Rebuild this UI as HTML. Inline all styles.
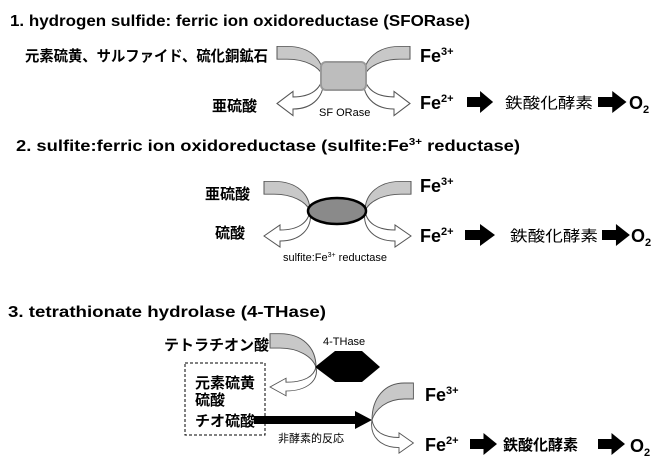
<!DOCTYPE html>
<html><head><meta charset="utf-8"><style>
html,body{margin:0;padding:0;background:#fff;}
svg{display:block;font-family:"Liberation Sans","Noto Sans CJK JP",sans-serif;}
.t{font-weight:bold;font-size:16px;}
.j{font-weight:bold;font-size:15px;font-family:"Liberation Sans","Noto Sans CJK JP",sans-serif;}
.jn{font-size:15px;font-family:"Liberation Sans","Noto Sans CJK JP",sans-serif;}
.fe{font-weight:bold;font-size:18px;}
.sm{font-size:11px;}
</style></head><body>
<svg width="663" height="465" viewBox="0 0 663 465" xmlns="http://www.w3.org/2000/svg">
<defs>
<path id="gin" d="M-46,-37 L-36,-37 C-14,-37 0,-22 0,0 C-4,-12 -18,-21 -36,-21 L-46,-21 Z" fill="#c8c8c8" stroke="#555" stroke-width="1"/>
<path id="wout" d="M0,0 C-2,12 -12,19 -30,19 L-30,14 L-46,25 L-30,36 L-30,30 C-10,30 3,18 0,0 Z" fill="#fff" stroke="#555" stroke-width="1"/>
<path id="bar" d="M0,-5 L15,-5 L15,-11 L30,0 L15,11 L15,5 L0,5 Z" fill="#000"/>
</defs>

<!-- Section 1 -->
<text x="10" y="26" class="t" textLength="460" lengthAdjust="spacingAndGlyphs">1. hydrogen sulfide: ferric ion oxidoreductase (SFORase)</text>
<text x="25" y="61" class="j" font-size="16" textLength="243" lengthAdjust="spacingAndGlyphs">元素硫黄、サルファイド、硫化銅鉱石</text>
<use href="#gin" transform="translate(323,76) scale(1,0.8)"/>
<use href="#gin" transform="translate(364,76) scale(-1,0.8)"/>
<use href="#wout" transform="translate(323,76) scale(1,1.1)"/>
<use href="#wout" transform="translate(364,76) scale(-1,1.1)"/>
<rect x="321" y="62" width="45" height="28" rx="5" fill="#bdbdbd" stroke="#9a9a9a" stroke-width="2"/>
<text x="212" y="111" class="j" font-size="16">亜硫酸</text>
<text x="319" y="116" class="sm">SF ORase</text>
<text x="420" y="62" class="fe">Fe<tspan font-size="11" dy="-7">3+</tspan></text>
<text x="420" y="109" class="fe">Fe<tspan font-size="11" dy="-7">2+</tspan></text>
<use href="#bar" transform="translate(467,102) scale(0.87,1)"/>
<text x="505" y="108" class="jn" textLength="88" lengthAdjust="spacingAndGlyphs">鉄酸化酵素</text>
<use href="#bar" transform="translate(598,102) scale(0.95,1)"/>
<text x="629" y="109" class="fe">O<tspan font-size="11" dy="4">2</tspan></text>

<!-- Section 2 -->
<text x="16" y="151" class="t" textLength="504" lengthAdjust="spacingAndGlyphs">2.  sulfite:ferric ion oxidoreductase (sulfite:Fe<tspan font-size="10" dy="-6">3+</tspan><tspan dy="6"> reductase)</tspan></text>
<text x="205" y="199" class="j" font-size="16">亜硫酸</text>
<use href="#gin" transform="translate(310,211) scale(1,0.8)"/>
<use href="#gin" transform="translate(365,211) scale(-1,0.8)"/>
<use href="#wout" transform="translate(310,211)"/>
<use href="#wout" transform="translate(365,211) scale(-1,1)"/>
<ellipse cx="337" cy="211" rx="29" ry="13" fill="#8a8a8a" stroke="#000" stroke-width="2.5"/>
<text x="215" y="238" class="j" font-size="16">硫酸</text>
<text x="283" y="261" class="sm">sulfite:Fe<tspan font-size="7" dy="-4">3+</tspan><tspan dy="4"> reductase</tspan></text>
<text x="420" y="192" class="fe">Fe<tspan font-size="11" dy="-7">3+</tspan></text>
<text x="420" y="242" class="fe">Fe<tspan font-size="11" dy="-7">2+</tspan></text>
<use href="#bar" transform="translate(465,235)"/>
<text x="510" y="241" class="jn" textLength="88" lengthAdjust="spacingAndGlyphs">鉄酸化酵素</text>
<use href="#bar" transform="translate(602,235) scale(0.93,1)"/>
<text x="631" y="242" class="fe">O<tspan font-size="11" dy="4">2</tspan></text>

<!-- Section 3 -->
<text x="8" y="317" class="t" textLength="318" lengthAdjust="spacingAndGlyphs">3. tetrathionate hydrolase  (4-THase)</text>
<text x="164" y="350" class="j">テトラチオン酸</text>
<use href="#gin" transform="translate(316,367) scale(1,0.9)"/>
<use href="#wout" transform="translate(316,367) scale(1,0.8)"/>
<polygon points="315,367 335,351 362,351 380,367 362,382 335,382" fill="#000"/>
<text x="323" y="345" font-size="11">4-THase</text>
<rect x="185" y="363" width="80" height="72" fill="none" stroke="#000" stroke-width="1" stroke-dasharray="3,2"/>
<text x="195" y="388" class="j">元素硫黄</text>
<text x="195" y="405" class="j">硫酸</text>
<text x="195" y="426" class="j">チオ硫酸</text>
<path d="M254,416 L355,416 L355,411 L372,420 L355,429 L355,424 L254,424 Z" fill="#000"/>
<text x="278" y="442" font-size="11" font-family="Liberation Sans,Noto Sans CJK JP,sans-serif">非酵素的反応</text>
<use href="#gin" transform="translate(372,420) scale(-0.9,1)"/>
<use href="#wout" transform="translate(372,420) scale(-0.9,0.92)"/>
<text x="425" y="401" class="fe">Fe<tspan font-size="11" dy="-7">3+</tspan></text>
<text x="425" y="451" class="fe">Fe<tspan font-size="11" dy="-7">2+</tspan></text>
<use href="#bar" transform="translate(470,444) scale(0.9,1)"/>
<text x="503" y="450" class="j" font-size="16">鉄酸化酵素</text>
<use href="#bar" transform="translate(598,444) scale(0.9,1)"/>
<text x="630" y="452" class="fe">O<tspan font-size="11" dy="4">2</tspan></text>
</svg>
</body></html>
